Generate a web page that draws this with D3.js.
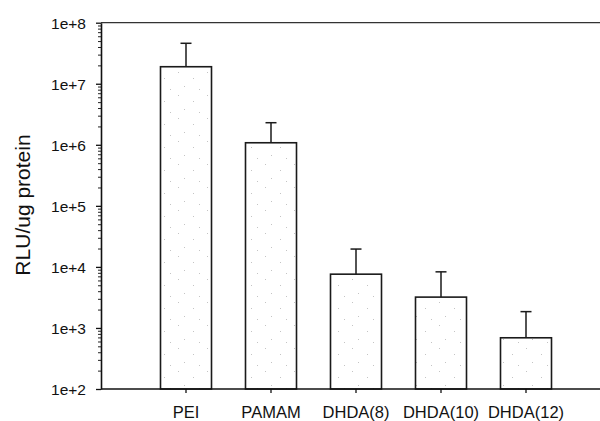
<!DOCTYPE html>
<html>
<head>
<meta charset="utf-8">
<script src="https://cdn.jsdelivr.net/npm/d3@7"></script>
<style>
  body { margin: 0; background: #fff; }
  svg { display: block; }
</style>
</head>
<body>
<div id="chart"></div>
<script>
const categories = ["PEI", "PAMAM", "DHDA(8)", "DHDA(10)", "DHDA(12)"];
const rlu = [1.9e7, 1.08e6, 7.6e3, 3.2e3, 690];
const sd = [2.7e7, 1.22e6, 1.2e4, 5.1e3, 1.16e3];
const yTicks = [1e2, 1e3, 1e4, 1e5, 1e6, 1e7, 1e8];

var dimension = {
    width: 600,
    height: 421,
    margin: { top: 22.7, left: 101, bottom: 32, right: 0 }
};
const plotBottom = dimension.height - dimension.margin.bottom;
const font = "Arial, 'Liberation Sans', sans-serif";

const data = categories.map((c, i) => ({ name: c, value: rlu[i], err: sd[i] }));

const svg = d3.select("#chart")
    .append("svg")
    .attr("width", dimension.width)
    .attr("height", dimension.height);

// sparse stipple fill for bars
const pat = svg.append("defs").append("pattern")
    .attr("id", "stipple")
    .attr("patternUnits", "userSpaceOnUse")
    .attr("width", 29).attr("height", 23);
pat.append("rect").attr("width", 29).attr("height", 23).attr("fill", "#fff");
[[4, 3], [19, 9], [10, 17], [25, 20]].forEach(p => {
    pat.append("rect").attr("x", p[0]).attr("y", p[1])
        .attr("width", 1).attr("height", 1).attr("fill", "#c4c4c4");
});

const yScaler = d3.scaleLog()
    .domain([1e2, 1e8])
    .range([plotBottom, dimension.margin.top]);

const step = 85;
const xScaler = d3.scaleBand()
    .domain(categories)
    .range([dimension.margin.left + step / 2, dimension.margin.left + step * 5.5])
    .paddingInner(0.4)
    .paddingOuter(0.2);

// top frame line runs to the page edge
svg.append("line")
    .attr("x1", dimension.margin.left).attr("x2", dimension.width)
    .attr("y1", dimension.margin.top).attr("y2", dimension.margin.top)
    .attr("stroke", "#333").attr("stroke-width", 1.3);

// minor ticks
const minor = [];
for (let e = 2; e < 8; e++) for (let m = 2; m <= 9; m++) minor.push(m * Math.pow(10, e));
svg.append("g")
    .attr("transform", `translate(${dimension.margin.left},0)`)
    .call(d3.axisLeft(yScaler).tickValues(minor).tickSize(3).tickFormat(""))
    .call(g => g.select(".domain").remove())
    .selectAll("line").attr("stroke", "#222").attr("stroke-width", 1);

const yAxis = svg.append("g")
    .attr("transform", `translate(${dimension.margin.left},0)`)
    .call(d3.axisLeft(yScaler).tickValues(yTicks).tickSize(5).tickSizeOuter(0)
        .tickFormat(d => "1e+" + Math.round(Math.log10(d))));
yAxis.select(".domain").attr("stroke", "#111").attr("stroke-width", 1.6);
yAxis.selectAll(".tick line").attr("stroke", "#111").attr("stroke-width", 1.3);
yAxis.selectAll(".tick text")
    .attr("x", -15)
    .attr("dy", "0.36em")
    .attr("fill", "#111")
    .attr("font-family", font)
    .attr("font-size", "15.5px");

// bars
svg.append("g")
    .selectAll("rect")
    .data(data)
    .enter()
    .append("rect")
    .attr("x", d => xScaler(d.name))
    .attr("y", d => yScaler(d.value))
    .attr("width", xScaler.bandwidth())
    .attr("height", d => plotBottom - yScaler(d.value))
    .attr("fill", "url(#stipple)")
    .attr("stroke", "#1a1a1a")
    .attr("stroke-width", 1.6);

// error bars (upper only)
const errG = svg.append("g").attr("stroke", "#1a1a1a").attr("stroke-width", 1.5);
errG.selectAll(".err")
    .data(data)
    .enter()
    .append("line")
    .attr("x1", d => xScaler(d.name) + xScaler.bandwidth() / 2)
    .attr("x2", d => xScaler(d.name) + xScaler.bandwidth() / 2)
    .attr("y1", d => yScaler(d.value))
    .attr("y2", d => yScaler(d.value + d.err));
errG.selectAll(".cap")
    .data(data)
    .enter()
    .append("line")
    .attr("x1", d => xScaler(d.name) + xScaler.bandwidth() / 2 - 5.5)
    .attr("x2", d => xScaler(d.name) + xScaler.bandwidth() / 2 + 5.5)
    .attr("y1", d => yScaler(d.value + d.err))
    .attr("y2", d => yScaler(d.value + d.err));

// x axis
svg.append("line")
    .attr("x1", dimension.margin.left).attr("x2", dimension.width)
    .attr("y1", plotBottom).attr("y2", plotBottom)
    .attr("stroke", "#111").attr("stroke-width", 1.6);
const xAxis = svg.append("g")
    .attr("transform", `translate(0,${plotBottom})`)
    .call(d3.axisBottom(xScaler).tickSize(4).tickSizeOuter(0));
xAxis.select(".domain").remove();
xAxis.selectAll(".tick line").attr("stroke", "#111").attr("stroke-width", 1.3);
xAxis.selectAll(".tick text")
    .attr("y", 17)
    .attr("dy", "0.71em")
    .attr("fill", "#111")
    .attr("font-family", font)
    .attr("font-size", "16.5px");

// y label
svg.append("text")
    .attr("transform", "translate(30,205)rotate(-90)")
    .attr("text-anchor", "middle")
    .attr("fill", "#111")
    .attr("font-family", font)
    .attr("font-size", "21px")
    .text("RLU/ug protein");
</script>
</body>
</html>
